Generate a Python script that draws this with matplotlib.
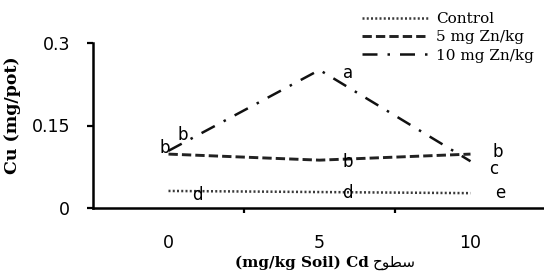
import matplotlib
matplotlib.use('Agg')
import matplotlib.pyplot as plt

# ---- data ----
categories = ['0', '5', '10']
control = [0.031, 0.029, 0.027]
zn5 = [0.098, 0.087, 0.098]
zn10 = [0.104, 0.251, 0.085]
series_names = ['Control', '5 mg Zn/kg', '10 mg Zn/kg']
letters_control = ['d', 'd', 'e']
letters_zn5 = ['b', 'b', 'b']
letters_zn10 = ['b', 'a', 'c']
yticks = [0, 0.15, 0.3]
ytick_labels = ['0', '0.15', '0.3']
xlabel_latin = '(mg/kg Soil) Cd'
xlabel_arabic = '\uFEA1\uFEEE\uFEC4\uFEB3'  # سطوح in visual order
ylabel = 'Cu (mg/pot)'

# ---- figure ----
W, H = 544, 272
fig = plt.figure(figsize=(W / 100, H / 100), dpi=100)
ax = fig.add_axes([93 / W, 64 / H, 453 / W, 165 / H])

x = list(range(len(categories)))
l1, = ax.plot(x, control, color='#3a3a3a', lw=1.8, linestyle=(0, (0.8, 0.9)))
l2, = ax.plot(x, zn5, color='#222222', lw=2.1, linestyle=(0, (3.2, 1.4)))
l3, = ax.plot(x, zn10, color='#111111', lw=1.8, linestyle=(0, (6, 4, 1, 4)))

# significance letters (offsets in pixels)
off_control = [(28.5, -4), (27.5, -1), (29.5, 0)]
off_zn5 = [(-3.5, 6), (28.5, -2), (27.5, 2)]
off_zn10 = [(14.5, 16), (28.5, -3), (23.5, -8)]
for vals, lets, offs in [(control, letters_control, off_control),
                         (zn5, letters_zn5, off_zn5),
                         (zn10, letters_zn10, off_zn10)]:
    for xi, v, l, o in zip(x, vals, lets, offs):
        ax.annotate(l, xy=(xi, v), xytext=o, textcoords='offset pixels',
                    ha='center', va='center', fontsize=12,
                    family='DejaVu Sans', color='black')

ax.set_xlim(-0.5, 2.5)
ax.set_ylim(0, 0.3)
for s in ['top', 'right']:
    ax.spines[s].set_visible(False)
for s in ['left', 'bottom']:
    ax.spines[s].set_linewidth(1.8)

ax.set_yticks(yticks)
ax.set_yticklabels(ytick_labels, family='DejaVu Sans', fontsize=12.5)
ax.tick_params(axis='y', direction='out', length=4.5, width=1.6, pad=12)

ax.set_xticks(x)
ax.set_xticklabels(categories, family='DejaVu Sans', fontsize=12.5)
ax.set_xticks([0.5, 1.5], minor=True)
ax.tick_params(axis='x', which='major', length=0, pad=19)
ax.tick_params(axis='x', which='minor', direction='out', length=3.5, width=1.6)

ax.set_ylabel(ylabel, family='DejaVu Serif', fontweight='bold', fontsize=12.5)
ax.yaxis.set_label_coords((21 - 93) / 453, (208 - 115) / 165)

t1 = fig.text(235 / W, 1 - 263 / H, xlabel_latin, family='DejaVu Serif',
              fontweight='bold', fontsize=11, ha='left', va='center')
ax.annotate(xlabel_arabic, xy=(1, 0.5), xycoords=t1, xytext=(4, 0),
            textcoords='offset pixels', ha='left', va='center',
            family='DejaVu Sans', fontsize=11)

leg = ax.legend([l1, l2, l3], series_names, loc='upper left',
                bbox_to_anchor=(362 / W, 1 - 12 / H),
                bbox_transform=fig.transFigure, frameon=False,
                prop={'family': 'DejaVu Serif', 'size': 11},
                handlelength=4.3, handletextpad=0.55, labelspacing=0.28,
                borderpad=0, borderaxespad=0)

fig.savefig('out.png', dpi=100)
